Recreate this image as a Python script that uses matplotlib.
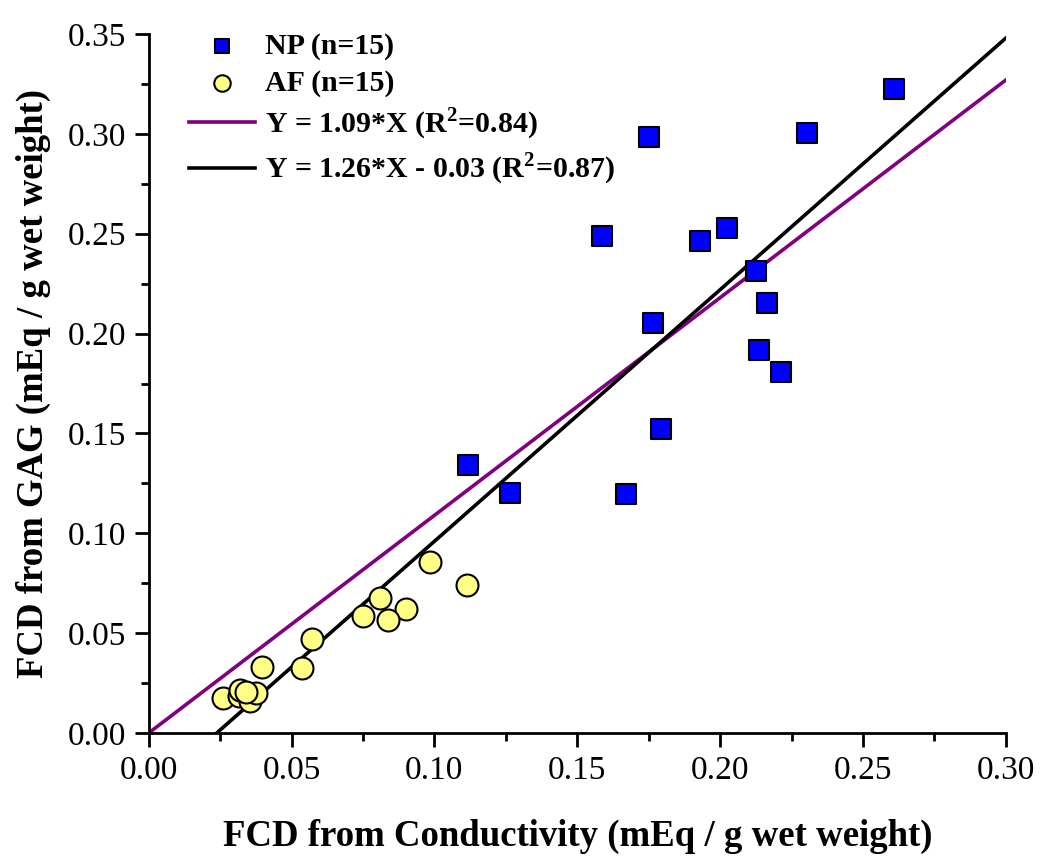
import matplotlib
matplotlib.use("Agg")
import matplotlib.pyplot as plt
import numpy as np
from matplotlib.ticker import MultipleLocator, FormatStrFormatter

np_x = [0.2608, 0.2303, 0.1751, 0.1587, 0.1930, 0.2024, 0.2126, 0.2164,
        0.1765, 0.2135, 0.2212, 0.1793, 0.1118, 0.1263, 0.1670]
np_y = [0.3225, 0.3002, 0.2985, 0.2489, 0.2466, 0.2530, 0.2315, 0.2154,
        0.2055, 0.1916, 0.1806, 0.1521, 0.1342, 0.1203, 0.1195]

af_x = [0.0984, 0.1113, 0.0809, 0.0900, 0.0749, 0.0836, 0.0570, 0.0395,
        0.0535, 0.0259, 0.0316, 0.0320, 0.0354, 0.0375, 0.0340]
af_y = [0.0858, 0.0741, 0.0674, 0.0621, 0.0586, 0.0564, 0.0469, 0.0332,
        0.0324, 0.0177, 0.0185, 0.0215, 0.0160, 0.0199, 0.0205]

fit1_slope, fit1_icpt = 1.09, 0.0
fit2_slope, fit2_icpt = 1.26, -0.03

plt.rcParams['font.family'] = ['Liberation Serif', 'DejaVu Serif']
plt.rcParams['mathtext.fontset'] = 'custom'
plt.rcParams['mathtext.rm'] = 'Liberation Serif'
plt.rcParams['mathtext.bf'] = 'Liberation Serif:bold'

fig = plt.figure(figsize=(10.5, 8.68), dpi=100)
ax = fig.add_axes([0.1416, 0.1555, 0.9580 - 0.1416, 0.9608 - 0.1555])

xs1 = np.array([0.0, 0.30])
ln1, = ax.plot(xs1, fit1_slope * xs1 + fit1_icpt, color='#800080', lw=2.6, zorder=2)
x0 = -fit2_icpt / fit2_slope
xs2 = np.array([x0, 0.30])
ln2, = ax.plot(xs2, fit2_slope * xs2 + fit2_icpt, color='black', lw=2.6, zorder=2)

sc1 = ax.scatter(np_x, np_y, marker='s', s=205, facecolor='#0000ff',
                 edgecolor='black', linewidth=1.5, zorder=3)
sc2 = ax.scatter(af_x, af_y, marker='o', s=250, facecolor='#ffff88',
                 edgecolor='black', linewidth=1.5, zorder=3)

ax.set_xlim(0, 0.30)
ax.set_ylim(0, 0.35)
ax.xaxis.set_major_locator(MultipleLocator(0.05))
ax.xaxis.set_minor_locator(MultipleLocator(0.025))
ax.yaxis.set_major_locator(MultipleLocator(0.05))
ax.yaxis.set_minor_locator(MultipleLocator(0.025))
ax.xaxis.set_major_formatter(FormatStrFormatter('%.2f'))
ax.yaxis.set_major_formatter(FormatStrFormatter('%.2f'))

for s in ['top', 'right']:
    ax.spines[s].set_visible(False)
for s in ['left', 'bottom']:
    ax.spines[s].set_linewidth(2)
ax.tick_params(which='major', direction='out', length=10, width=2, labelsize=24, pad=6)
ax.tick_params(which='minor', direction='out', length=6, width=2)

ax.set_xlabel('FCD from Conductivity (mEq / g wet weight)', fontsize=26.5,
              fontweight='bold', labelpad=24)
ax.set_ylabel('FCD from GAG (mEq / g wet weight)', fontsize=26.5,
              fontweight='bold', labelpad=12)

leg = ax.legend([sc1, sc2, ln1, ln2],
                ['NP (n=15)', 'AF (n=15)',
                 r'Y = 1.09*X (R$^\mathbf{2}$=0.84)',
                 r'Y = 1.26*X - 0.03 (R$^\mathbf{2}$=0.87)'],
                loc='upper left', bbox_to_anchor=(0.026, 1.027), frameon=False,
                prop={'weight': 'bold', 'size': 21.5}, handlelength=2.2,
                handletextpad=0.35, labelspacing=0.3, borderaxespad=0.2,
                markerscale=0.75)

fig.savefig('out.png', dpi=100)
